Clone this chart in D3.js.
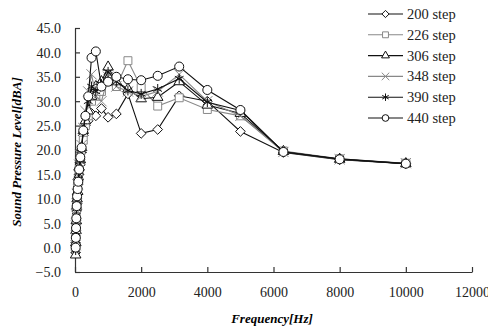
<!DOCTYPE html>
<html>
<head>
<meta charset="utf-8">
<script src="https://cdn.jsdelivr.net/npm/d3@7"></script>
<style>
  body { margin: 0; background: #fff; }
</style>
</head>
<body>
<div id="chart"></div>
<script>
// 1/3 octave band centre frequencies [Hz]
var freqs = [20, 25, 31.5, 40, 50, 63, 80, 100, 125, 160, 200, 250, 315, 400, 500,
             630, 800, 1000, 1250, 1600, 2000, 2500, 3150, 4000, 5000, 6300, 8000, 10000];

var seriesNames = ["200 step", "226 step", "306 step", "348 step", "390 step", "440 step"];

var spl200 = [-1, 1, 3, 5, 7.5, 9, 11, 13, 15, 17, 19.5, 23, 25, 26, 27.5,
              27, 28.5, 26.7, 27.4, 31.5, 23.4, 24.2, 31.1, 30, 23.8, 19.5, 18.0, 17.2];
var spl226 = [0, 2.5, 4, 6, 8, 10, 12.5, 14, 16, 18.5, 20, 22, 25, 27, 30,
              31, 32, 34, 33, 38.3, 32.8, 29.0, 30.7, 28.3, 27.0, 19.8, 18.2, 17.3];
var spl306 = [-1.5, 1, 3.5, 5.5, 8.5, 10, 11.5, 14.5, 16.5, 18, 20.5, 24, 26, 28, 31,
              33, 34, 37, 34, 32.5, 30.5, 30.8, 34, 29.2, 27.5, 19.7, 18.1, 17.2];
var spl348 = [0.5, 2, 4.5, 7, 9, 11, 13, 15, 17, 19, 21, 24.5, 28, 32, 35.5,
              31, 30, 35, 33, 32, 31, 32, 35.5, 30, 27, 19.6, 18.1, 17.3];
var spl390 = [-0.5, 1.5, 3, 6.5, 8, 9.5, 12, 14, 15.5, 18, 20, 24, 27, 30, 33,
              32, 33.5, 36, 34, 32.2, 31.5, 32.5, 34.6, 29.8, 28.1, 19.6, 18.2, 17.2];
var spl440 = [0, 2, 4, 6, 8.5, 10.5, 12, 13.5, 16, 18.5, 20.5, 24, 27, 31, 38.9,
              40.2, 33, 34, 35, 34.5, 34.3, 35.2, 37.1, 32.3, 28.2, 19.6, 18.1, 17.2];

var allSeries = [spl200, spl226, spl306, spl348, spl390, spl440];

var xTicks = [0, 2000, 4000, 6000, 8000, 10000, 12000];
var yTicks = [-5, 0, 5, 10, 15, 20, 25, 30, 35, 40, 45];

var width = 488, height = 331;
var serif = "'Liberation Serif', 'Times New Roman', Tinos, 'DejaVu Serif', serif";

var styles = [
  { color: "#111", symbol: d3.symbolDiamond2, size: 60, fill: "#fff" },
  { color: "#888", symbol: d3.symbolSquare2, size: 80, fill: "#fff" },
  { color: "#111", symbol: d3.symbolTriangle2, size: 80, fill: "#fff" },
  { color: "#888", symbol: d3.symbolTimes, size: 70, fill: "none" },
  { color: "#111", symbol: d3.symbolAsterisk, size: 70, fill: "none" },
  { color: "#111", symbol: d3.symbolCircle, size: 64, fill: "#fff" }
];

var x = d3.scaleLinear().domain([0, 12000]).range([75, 472]);
var y = d3.scaleLinear().domain([-5, 45]).range([272, 28]);

var svg = d3.select("#chart").append("svg")
    .attr("width", width)
    .attr("height", height);

// axes, ticks pointing inwards
var xAxis = d3.axisBottom(x).tickValues(xTicks).tickSizeInner(-5).tickSizeOuter(0).tickFormat(d3.format("d"));
var yAxis = d3.axisLeft(y).tickValues(yTicks).tickSizeInner(-5).tickSizeOuter(0).tickFormat(d3.format(".1f"));

var gx = svg.append("g").attr("transform", "translate(0," + y(-5) + ")").call(xAxis);
gx.selectAll("text").attr("dy", null).attr("y", 25);
var gy = svg.append("g").attr("transform", "translate(" + x(0) + ",0)").call(yAxis);
gy.selectAll("text").attr("x", -14).attr("dy", "0.35em");
svg.selectAll(".tick text")
    .style("font-family", serif)
    .style("font-size", "14px")
    .style("fill", "#222");
svg.selectAll(".domain, .tick line").attr("stroke", "#333").attr("stroke-width", 1.2);

// axis titles
svg.append("text")
    .attr("x", 272).attr("y", 323)
    .attr("text-anchor", "middle")
    .style("font-family", serif)
    .style("font-size", "13px").style("font-weight", "bold").style("font-style", "italic")
    .text("Frequency[Hz]");
svg.append("text")
    .attr("transform", "translate(21,152) rotate(-90)")
    .attr("text-anchor", "middle")
    .style("font-family", serif)
    .style("font-size", "13px").style("font-weight", "bold").style("font-style", "italic")
    .text("Sound Pressure Level[dBA]");

var line = d3.line()
    .x(function(d) { return x(d[0]); })
    .y(function(d) { return y(d[1]); });

allSeries.forEach(function(vals, i) {
  var st = styles[i];
  var pts = freqs.map(function(f, k) { return [f, vals[k]]; });
  var g = svg.append("g");
  g.append("path")
      .attr("d", line(pts))
      .attr("fill", "none")
      .attr("stroke", st.color)
      .attr("stroke-width", 1.1);
  g.selectAll("path.pt")
      .data(pts)
    .enter().append("path")
      .attr("class", "pt")
      .attr("transform", function(d) { return "translate(" + x(d[0]) + "," + y(d[1]) + ")"; })
      .attr("d", d3.symbol().type(st.symbol).size(st.size))
      .attr("fill", st.fill)
      .attr("stroke", st.color)
      .attr("stroke-width", 1);
});

// legend
var legend = svg.append("g").attr("transform", "translate(368,14)");
seriesNames.forEach(function(name, i) {
  var st = styles[i];
  var row = legend.append("g").attr("transform", "translate(0," + i * 20.8 + ")");
  row.append("line")
      .attr("x1", 0).attr("x2", 35)
      .attr("stroke", st.color).attr("stroke-width", 1.1);
  row.append("path")
      .attr("transform", "translate(17.5,0)")
      .attr("d", d3.symbol().type(st.symbol).size(st.size * 0.55))
      .attr("fill", st.fill)
      .attr("stroke", st.color);
  row.append("text")
      .attr("x", 39).attr("dy", "0.35em")
      .style("font-family", serif)
      .style("font-size", "14.5px")
      .style("fill", "#222")
      .text(name);
});
</script>
</body>
</html>
